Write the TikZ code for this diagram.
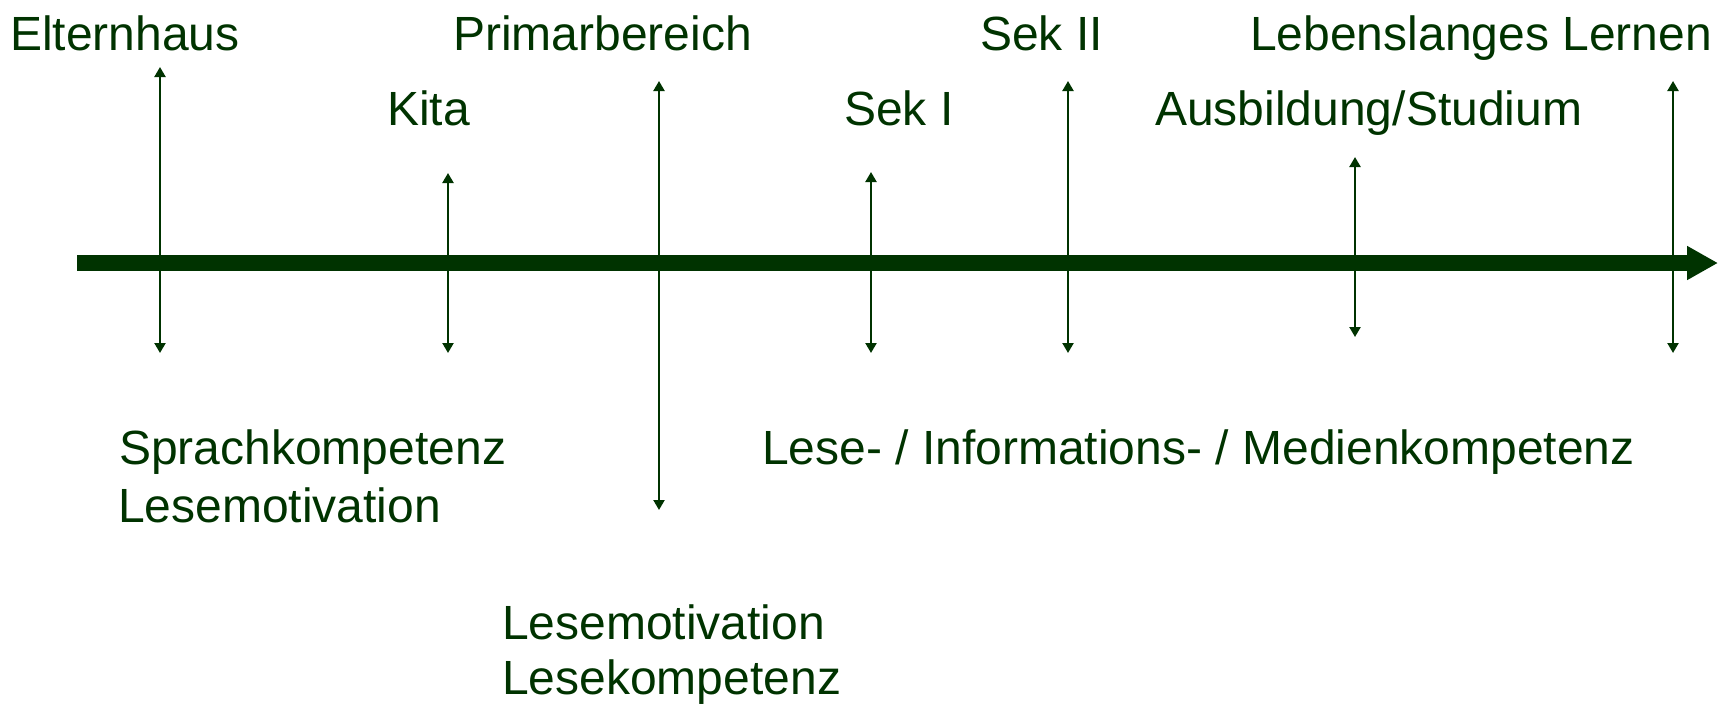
\documentclass[tikz,border=0pt]{standalone}
\usepackage{fontspec}
\setmainfont{Liberation Sans}
\usetikzlibrary{arrows.meta}
\definecolor{darkgreen}{HTML}{003300}
\tikzset{
  label/.style={anchor=base west, inner sep=0pt, text=darkgreen,
    font=\fontsize{48}{56}\selectfont},
  timeline/.style={draw=darkgreen, line width=16pt,
    -{Triangle[width=32pt,length=31pt]}},
  marker/.style={draw=darkgreen, line width=2.2pt,
    {Triangle[width=11pt,length=10pt]}-{Triangle[width=11pt,length=10pt]}}
}
\begin{document}
\begin{tikzpicture}[x=1pt,y=-1pt]
  \useasboundingbox (0,0) rectangle (1720,704);

  % main time axis
  \coordinate (tstart) at (77,263);
  \coordinate (tend) at (1718,263);
  \draw[timeline] (tstart) -- (tend);

  % stage labels above the axis
  \node[label] (eltern) at (10,50) {Elternhaus};
  \node[label] (primar) at (453,50) {Primarbereich};
  \node[label] (sek2) at (980,50) {Sek II};
  \node[label] (lebens) at (1250,50) {Lebenslanges Lernen};
  \node[label] (kita) at (387,125) {Kita};
  \node[label] (sek1) at (844,125) {Sek I};
  \node[label] (ausb) at (1155,125) {Ausbildung/Studium};

  % competence labels below the axis
  \node[label] (sprach) at (119,464) {Sprachkompetenz};
  \node[label] (motiv1) at (118,522) {Lesemotivation};
  \node[label] (medien) at (762,464) {Lese- / Informations- / Medienkompetenz};
  \node[label] (motiv2) at (502,639) {Lesemotivation};
  \node[label] (lesekomp) at (502,694) {Lesekompetenz};

  % end points of the stage markers
  \coordinate (e1) at (160,67);   \coordinate (e2) at (160,353);
  \coordinate (k1) at (448,173);  \coordinate (k2) at (448,353);
  \coordinate (p1) at (659,81);   \coordinate (p2) at (659,510);
  \coordinate (s1) at (871,172);  \coordinate (s2) at (871,353);
  \coordinate (t1) at (1068,81);  \coordinate (t2) at (1068,353);
  \coordinate (a1) at (1355,157); \coordinate (a2) at (1355,337);
  \coordinate (l1) at (1673,81);  \coordinate (l2) at (1673,353);

  \foreach \m in {e,k,p,s,t,a,l}
    \draw[marker] (\m1) -- (\m2);
\end{tikzpicture}
\end{document}
